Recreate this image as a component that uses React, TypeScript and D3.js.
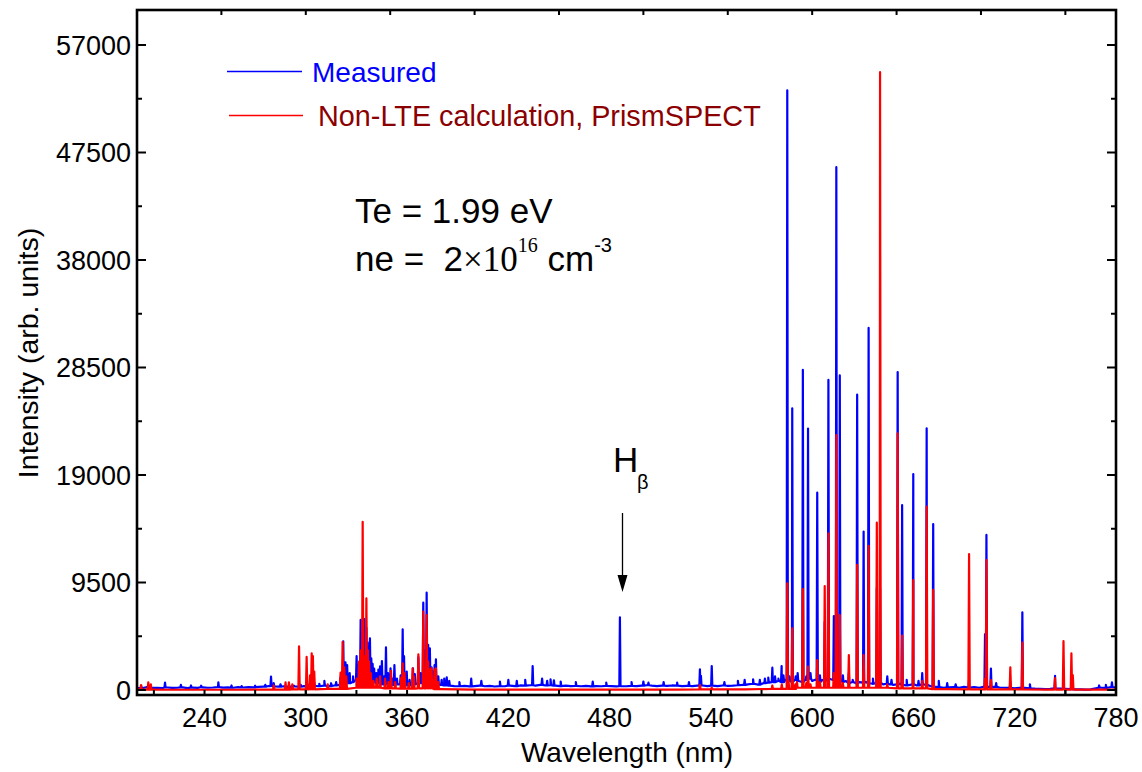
import React from 'react';
import * as d3 from 'd3';

const W = 1142;
const H = 772;
const PL = 137, PR = 1116, PT = 10, PB = 695;

const xLabelTicks = [240, 300, 360, 420, 480, 540, 600, 660, 720, 780];
const xMinorTicks30 = [210, 270, 330, 390, 450, 510, 570, 630, 690, 750];
const xTicks50 = [250, 300, 350, 400, 450, 500, 550, 600, 650, 700, 750];
const yLabelTicks = [0, 9500, 19000, 28500, 38000, 47500, 57000];
const yMinorTicks = [4750, 14250, 23750, 33250, 42750, 52250];

// Measured spectrum: baseline samples [nm, counts]
const measuredBase: [number, number][] = [
  [200, 200], [203, 150], [206, 250], [209, 180], [212, 200], [215, 160], [218, 220], [221, 180], [224, 200], [227, 230],
  [230, 170], [233, 210], [236, 190], [239, 240], [242, 200], [245, 220], [248, 260], [251, 210], [254, 230], [257, 200],
  [260, 250], [263, 220], [266, 260], [269, 240], [272, 280], [275, 300], [278, 350], [281, 320], [284, 300], [287, 330],
  [290, 280], [293, 320], [296, 300], [299, 340], [302, 310], [305, 360], [308, 330], [311, 380], [314, 350], [317, 400],
  [320, 450], [325, 600], [328, 700], [331, 900], [334, 1000], [337, 900], [340, 700], [343, 600], [346, 500], [349, 550],
  [352, 450], [355, 500], [358, 450], [361, 400], [364, 500], [367, 600], [370, 700], [373, 600], [376, 500], [379, 450],
  [382, 400], [385, 380], [388, 350], [391, 330], [394, 370], [397, 320], [400, 350], [403, 380], [406, 330], [409, 360],
  [412, 310], [415, 350], [418, 330], [421, 380], [424, 340], [427, 400], [430, 380], [433, 420], [436, 380], [439, 450],
  [442, 400], [445, 420], [448, 380], [451, 350], [454, 380], [457, 340], [460, 370], [463, 330], [466, 360], [469, 320],
  [472, 350], [475, 330], [478, 360], [481, 340], [484, 320], [487, 350], [490, 330], [493, 370], [496, 340], [499, 380],
  [502, 420], [505, 380], [508, 350], [511, 390], [514, 360], [517, 400], [520, 380], [523, 350], [526, 370], [529, 340],
  [532, 390], [535, 400], [538, 350], [541, 380], [544, 340], [547, 400], [550, 370], [553, 380], [556, 420], [559, 450],
  [562, 500], [565, 550], [568, 480], [571, 600], [574, 650], [577, 700], [580, 800], [582, 700], [584, 900], [586, 800],
  [588, 700], [590, 900], [592, 800], [594, 700], [596, 900], [598, 1000], [600, 800], [602, 900], [604, 700], [606, 900],
  [608, 800], [610, 1000], [612, 900], [614, 800], [616, 900], [618, 700], [620, 800], [622, 600], [624, 700], [626, 600],
  [628, 700], [630, 650], [632, 700], [634, 600], [636, 550], [638, 600], [640, 650], [642, 500], [644, 550], [646, 500],
  [648, 450], [650, 500], [652, 550], [654, 450], [656, 400], [658, 450], [660, 500], [662, 400], [664, 450], [666, 500],
  [668, 450], [670, 350], [672, 300], [675, 250], [678, 200], [681, 230], [684, 250], [687, 200], [690, 280], [693, 220],
  [696, 260], [699, 200], [702, 300], [705, 250], [708, 280], [711, 220], [714, 200], [717, 180], [720, 150], [723, 200],
  [726, 180], [729, 150], [732, 120], [735, 100], [738, 80], [741, 100], [744, 150], [747, 120], [750, 100], [753, 80],
  [756, 60], [759, 50], [762, 40], [765, 50], [768, 150], [771, 200], [774, 180], [777, 250], [780, 200],
];

// Measured spectrum: emission lines [nm, counts]
const measuredPeaks: [number, number][] = [
  [202.5, 350], [216.6, 650], [226, 450], [232, 400], [238, 380], [248.2, 680], [256, 400], [262, 350], [270, 380],
  [276, 450], [279.4, 1180], [281, 600], [285, 500], [290, 420], [293, 380], [297, 450], [301, 500], [305, 650],
  [308, 550], [311, 800], [315, 600], [318, 700], [320.5, 1100], [322.2, 4300], [323.5, 2450], [324.5, 2200],
  [326, 1500], [328, 1200], [330.1, 3000], [331.2, 2200], [332.5, 6200], [333.2, 4500], [333.7, 5000], [334.7, 6270],
  [335.9, 5500], [336.6, 4200], [337.2, 3300], [338.0, 4570], [338.8, 2800], [339.6, 2300], [340.5, 1900],
  [341.8, 1500], [343, 1800], [344.0, 2100], [345.1, 2560], [346.4, 1200], [347.5, 3770], [348.7, 1500],
  [350.2, 1920], [351.5, 1000], [352.5, 2200], [354, 1000], [356.2, 1300], [357.4, 5360], [358.2, 3000],
  [359.8, 1620], [361.5, 900], [363.5, 1920], [364.6, 1400], [366.7, 2900], [368, 1500], [369.6, 7720], [370.4, 3500],
  [371.6, 8600], [372.5, 4000], [373.5, 3680], [374.5, 2000], [375.5, 1600], [376.3, 2200], [377.1, 2710],
  [378.5, 1200], [380.5, 900], [382, 1000], [383.5, 1120], [385, 800], [391, 700], [398, 1000], [404, 800],
  [415, 750], [420, 900], [425, 800], [430, 900], [434.4, 2120], [440, 1000], [443, 800], [445, 950], [447, 850],
  [451, 750], [460, 700], [470, 750], [478, 650], [486.1, 6420], [493, 700], [500, 750], [503, 650], [512, 700],
  [520, 650], [527, 700], [533.5, 1830], [534.1, 1240], [540.5, 2120], [548, 700], [556, 800], [560, 900],
  [565, 950], [569, 900], [572, 1000], [574, 1100], [576.4, 1970], [578, 1200], [580, 1000], [581.9, 2120],
  [583, 1300], [585.25, 53000], [586.5, 1200], [588.19, 24900], [590.2, 1200], [591.4, 1500], [594.48, 28300],
  [596.5, 1200], [597.55, 23100], [599, 1500], [602, 900], [603.0, 17440], [604.6, 1300], [607.43, 6000],
  [609.62, 27400], [612.84, 6540], [614.31, 46200], [616.36, 27800], [618.2, 1300], [621.73, 1500], [624, 900],
  [626.65, 26100], [630.48, 14000], [633.44, 32000], [636, 1000], [638.3, 9000], [640.22, 9000], [644.5, 1200],
  [647, 900], [650.65, 28100], [653.29, 16350], [656, 900], [659.9, 19090], [663, 800], [665.2, 1500],
  [667.83, 23130], [671.7, 14670], [675, 800], [680, 600], [685, 500], [692.95, 900], [702.4, 4950],
  [703.24, 13700], [705.9, 1900], [709, 600], [717.4, 700], [724.52, 6870], [729, 500], [743.9, 1240],
  [748.9, 600], [753.6, 500], [770, 400], [774, 450], [777.6, 680],
];

// Non-LTE calculation: baseline samples [nm, counts]
const calcBase: [number, number][] = [
  [200, 60], [210, 40], [220, 20], [240, 20], [260, 20], [280, 40], [300, 60], [320, 100], [330, 200], [340, 200],
  [350, 150], [360, 120], [370, 150], [380, 80], [400, 40], [420, 30], [440, 30], [460, 30], [480, 30], [500, 30],
  [520, 40], [540, 50], [560, 60], [580, 100], [600, 200], [620, 200], [640, 200], [660, 150], [680, 80], [700, 60],
  [720, 50], [740, 40], [760, 40], [780, 40],
];

// Non-LTE calculation: lines [nm, counts]
const calcPeaks: [number, number][] = [
  [202.4, 440], [206.7, 680], [208.2, 500], [281, 400], [288, 680], [290, 680], [292, 500], [296.0, 3850],
  [300.5, 2940], [302.5, 1300], [303.5, 3240], [304.2, 3000], [305, 1620], [313, 500], [320.6, 1530],
  [321.8, 4250], [322.8, 2000], [324, 1200], [330, 1000], [331.5, 2500], [332.5, 3500], [333.7, 14870],
  [334.5, 3000], [335.9, 8100], [336.8, 3500], [337.5, 2500], [338.5, 1500], [340, 800], [342, 1000], [344, 1200],
  [347, 1000], [349, 700], [350.5, 1700], [353, 700], [356.5, 1100], [357.4, 2360], [358.5, 1500], [361, 600],
  [363.3, 1920], [364, 1200], [366.7, 3150], [369.6, 6920], [371.6, 6630], [372.5, 2500], [373.5, 1800],
  [374.5, 1940], [376.3, 1800], [377.1, 1920], [378.5, 700], [533.5, 440], [540.5, 200], [576.4, 400], [582, 500],
  [585.25, 9430], [586, 800], [588.19, 5450], [590, 500], [591, 700], [594.48, 8925], [596.5, 600], [597.55, 2060],
  [599, 500], [603.0, 2650], [604.6, 700], [607.43, 9190], [609.62, 13850], [612.84, 1500], [614.31, 22530],
  [616.36, 6630], [618.2, 600], [621.73, 3090], [626.65, 11050], [630.48, 3090], [633.44, 12730], [638.3, 14790],
  [640.22, 54600], [644.5, 500], [650.65, 22680], [653.29, 4800], [659.9, 9720], [665.2, 800], [667.83, 16200],
  [671.7, 8840], [692.95, 12020], [702.4, 1000], [703.24, 11490], [705.9, 880], [717.39, 2000], [724.52, 4180],
  [743.89, 1060], [748.89, 4330], [753.58, 3240], [754.4, 1325],
];

const x = d3.scaleLinear().domain([200, 780]).range([PL, PR]);
const y = d3.scaleLinear().domain([-442, 60093]).range([PB, PT]);

function buildSeries(base: [number, number][], peaks: [number, number][], hw: number) {
  const pts: [number, number][] = base.map((d) => [d[0], d[1]] as [number, number]);
  const nearest = (w: number) => {
    let best = base[0];
    for (const b of base) if (Math.abs(b[0] - w) < Math.abs(best[0] - w)) best = b;
    return best[1];
  };
  for (const [w, v] of peaks) {
    const b = nearest(w);
    pts.push([w - hw, b], [w, v], [w + hw, b]);
  }
  pts.sort((a, b) => a[0] - b[0]);
  return pts;
}

const line = d3
  .line<[number, number]>()
  .x((d) => x(d[0]))
  .y((d) => y(d[1]));

const FONT = "'Liberation Sans', Arial, Helvetica, sans-serif";
const SERIF = "'Liberation Serif', 'Times New Roman', serif";

export default function App() {
  const measured = buildSeries(measuredBase, measuredPeaks, 0.35);
  const calc = buildSeries(calcBase, calcPeaks, 0.4);
  return (
    <svg
      width={W}
      height={H}
      viewBox={`0 0 ${W} ${H}`}
      style={{ position: 'absolute', left: 0, top: 0, background: '#fff' }}
    >
      <rect x={0} y={0} width={W} height={H} fill="#fff" />
      <defs>
        <clipPath id="plotclip">
          <rect x={PL} y={PT} width={PR - PL} height={PB - PT} />
        </clipPath>
      </defs>
      <g clipPath="url(#plotclip)">
        <path d={line(measured) || ''} fill="none" stroke="#0000ff" strokeWidth={2.2} strokeLinejoin="round" />
        <path d={line(calc) || ''} fill="none" stroke="#ff0000" strokeWidth={2.2} strokeLinejoin="round" />
      </g>

      {/* frame */}
      <rect x={PL} y={PT} width={PR - PL} height={PB - PT} fill="none" stroke="#000" strokeWidth={2.6} />

      {/* y ticks */}
      {yLabelTicks.map((t) => (
        <g key={'y' + t}>
          <line x1={PL} x2={PL + 9} y1={y(t)} y2={y(t)} stroke="#000" strokeWidth={2} />
          <line x1={PR} x2={PR - 9} y1={y(t)} y2={y(t)} stroke="#000" strokeWidth={2} />
          <text x={131} y={y(t)} dy="0.36em" textAnchor="end" fontFamily={FONT} fontSize={27}>
            {t}
          </text>
        </g>
      ))}
      {yMinorTicks.map((t) => (
        <g key={'ym' + t}>
          <line x1={PL} x2={PL + 5} y1={y(t)} y2={y(t)} stroke="#000" strokeWidth={2} />
          <line x1={PR} x2={PR - 5} y1={y(t)} y2={y(t)} stroke="#000" strokeWidth={2} />
        </g>
      ))}

      {/* x ticks */}
      {xLabelTicks.map((t) => (
        <g key={'x' + t}>
          <line x1={x(t)} x2={x(t)} y1={PB} y2={PB - 5} stroke="#000" strokeWidth={2} />
          <text x={x(t)} y={727} textAnchor="middle" fontFamily={FONT} fontSize={27}>
            {t}
          </text>
        </g>
      ))}
      {xMinorTicks30.map((t) => (
        <line key={'xm' + t} x1={x(t)} x2={x(t)} y1={PB} y2={PB - 5} stroke="#000" strokeWidth={2} />
      ))}
      {xTicks50.map((t) => (
        <g key={'x50' + t}>
          <line x1={x(t)} x2={x(t)} y1={PB} y2={PB - 5} stroke="#000" strokeWidth={2} />
          <line x1={x(t)} x2={x(t)} y1={PT} y2={PT + 5} stroke="#000" strokeWidth={2} />
        </g>
      ))}

      {/* axis titles */}
      <text x={627} y={762} textAnchor="middle" fontFamily={FONT} fontSize={28}>
        Wavelength (nm)
      </text>
      <text
        transform={`translate(38, 353) rotate(-90)`}
        textAnchor="middle"
        fontFamily={FONT}
        fontSize={28.5}
      >
        Intensity (arb. units)
      </text>

      {/* legend */}
      <line x1={227} x2={302} y1={71.5} y2={71.5} stroke="#0000ff" strokeWidth={1.6} />
      <text x={312} y={82} fontFamily={FONT} fontSize={28} fill="#0000ff">
        Measured
      </text>
      <line x1={229} x2={303} y1={115.5} y2={115.5} stroke="#ff0000" strokeWidth={1.6} />
      <text x={318} y={126} fontFamily={FONT} fontSize={28.8} fill="#8b0000">
        Non-LTE calculation, PrismSPECT
      </text>

      {/* plasma parameters */}
      <text x={355} y={223} fontFamily={FONT} fontSize={35} fill="#000">
        Te = 1.99 eV
      </text>
      <text x={355} y={271} fontFamily={FONT} fontSize={35} fill="#000">
        <tspan>{'ne =\u00a0 2'}</tspan>
        <tspan fontFamily={SERIF}>×10</tspan>
        <tspan fontFamily={SERIF} fontSize={20} dy={-19}>16</tspan>
        <tspan dy={19}>{' cm'}</tspan>
        <tspan fontSize={20} dy={-19}>-3</tspan>
      </text>

      {/* H-beta label */}
      <text x={613} y={472} fontFamily={FONT} fontSize={35}>
        H
      </text>
      <text x={637} y={489} fontFamily={FONT} fontSize={20}>
        β
      </text>
      <line x1={622.5} x2={622.5} y1={513} y2={578} stroke="#000" strokeWidth={1.3} />
      <polygon points="617.5,575 627.5,575 622.5,592" fill="#000" />
    </svg>
  );
}
